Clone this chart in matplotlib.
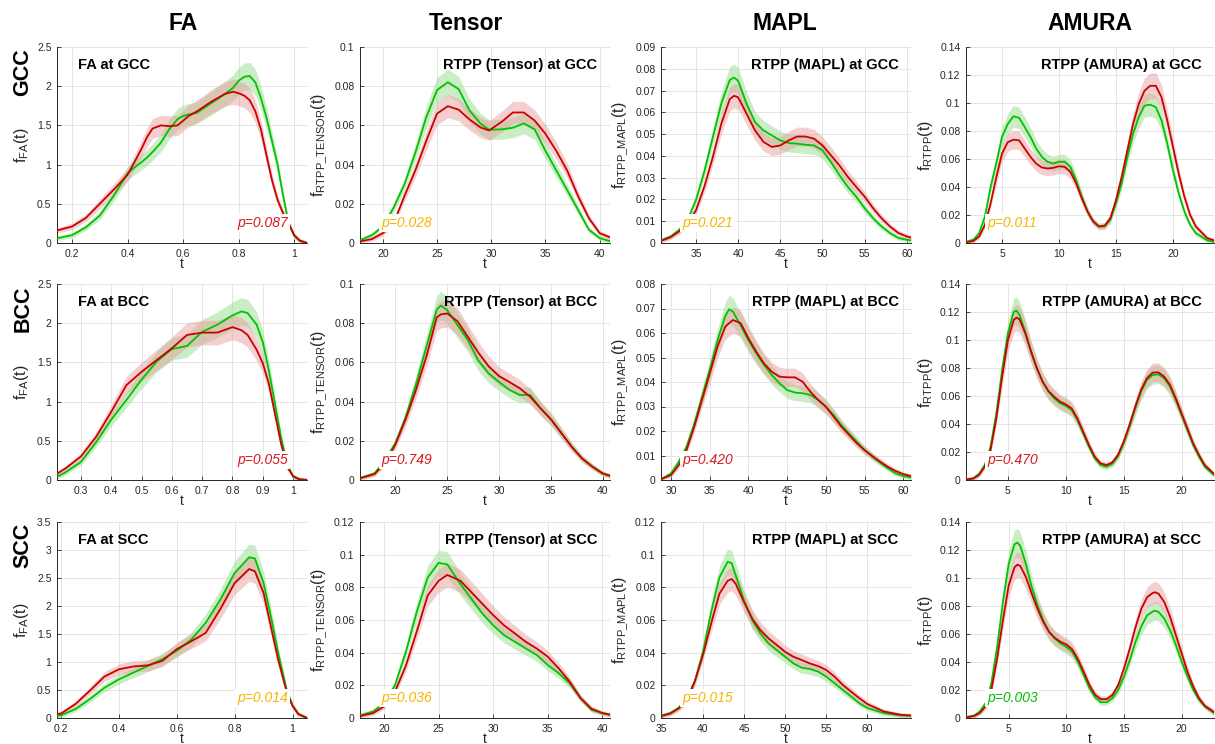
import matplotlib
matplotlib.use('Agg')
import matplotlib.pyplot as plt
from matplotlib.ticker import FuncFormatter
import numpy as np

# ---------------- data ----------------
col_titles = ['FA', 'Tensor', 'MAPL', 'AMURA']
row_titles = ['GCC', 'BCC', 'SCC']
ylabels = [r'$\mathregular{f_{FA}(t)}$', r'$\mathregular{f_{RTPP\_TENSOR}(t)}$',
           r'$\mathregular{f_{RTPP\_MAPL}(t)}$', r'$\mathregular{f_{RTPP}(t)}$']
panel_titles = [['FA at GCC', 'RTPP (Tensor) at GCC', 'RTPP (MAPL) at GCC', 'RTPP (AMURA) at GCC'],
                ['FA at BCC', 'RTPP (Tensor) at BCC', 'RTPP (MAPL) at BCC', 'RTPP (AMURA) at BCC'],
                ['FA at SCC', 'RTPP (Tensor) at SCC', 'RTPP (MAPL) at SCC', 'RTPP (AMURA) at SCC']]
p_values = [[0.087, 0.028, 0.021, 0.011],
            [0.055, 0.749, 0.420, 0.470],
            [0.014, 0.036, 0.015, 0.003]]

# FA at GCC
fa_gcc_t = [0.146, 0.2, 0.25, 0.3, 0.35, 0.4, 0.42, 0.45, 0.47, 0.49, 0.52, 0.55, 0.58, 0.6, 0.62, 0.65,
            0.7, 0.75, 0.78, 0.8, 0.82, 0.84, 0.86, 0.88, 0.9, 0.92, 0.94, 0.96, 0.98, 1.0, 1.02, 1.046]
fa_gcc_red = [0.16, 0.21, 0.32, 0.5, 0.68, 0.87, 1.0, 1.2, 1.35, 1.46, 1.5, 1.49, 1.5, 1.56, 1.62, 1.68,
              1.8, 1.9, 1.93, 1.91, 1.88, 1.82, 1.68, 1.45, 1.12, 0.8, 0.55, 0.38, 0.25, 0.1, 0.03, 0.0]
fa_gcc_green = [0.06, 0.1, 0.2, 0.35, 0.6, 0.89, 0.95, 1.03, 1.09, 1.16, 1.28, 1.45, 1.58, 1.62, 1.64, 1.66,
                1.78, 1.9, 1.98, 2.07, 2.12, 2.13, 2.05, 1.85, 1.6, 1.3, 1.0, 0.6, 0.25, 0.09, 0.03, 0.0]
# FA at BCC
fa_bcc_t = [0.221, 0.25, 0.3, 0.35, 0.4, 0.45, 0.5, 0.55, 0.6, 0.65, 0.7, 0.75, 0.8, 0.83, 0.85, 0.88,
            0.9, 0.92, 0.94, 0.96, 0.98, 1.0, 1.02, 1.046]
fa_bcc_red = [0.08, 0.15, 0.30, 0.55, 0.87, 1.21, 1.38, 1.53, 1.68, 1.85, 1.88, 1.88, 1.95, 1.91, 1.85, 1.66,
              1.49, 1.23, 0.85, 0.47, 0.17, 0.05, 0.01, 0.0]
fa_bcc_green = [0.04, 0.1, 0.23, 0.48, 0.77, 1.02, 1.28, 1.51, 1.67, 1.71, 1.89, 1.98, 2.1, 2.15, 2.13, 1.98,
                1.76, 1.4, 0.98, 0.55, 0.21, 0.04, 0.01, 0.0]
# FA at SCC
fa_scc_t = [0.186, 0.2, 0.25, 0.3, 0.35, 0.4, 0.45, 0.5, 0.55, 0.6, 0.65, 0.7, 0.75, 0.8, 0.85, 0.87,
            0.9, 0.93, 0.95, 0.98, 1.0, 1.02, 1.05]
fa_scc_red = [0.07, 0.08, 0.25, 0.49, 0.74, 0.87, 0.92, 0.94, 1.02, 1.23, 1.37, 1.52, 1.94, 2.41, 2.66, 2.62,
              2.23, 1.52, 1.05, 0.46, 0.22, 0.07, 0.0]
fa_scc_green = [0.04, 0.05, 0.16, 0.34, 0.54, 0.69, 0.81, 0.93, 1.05, 1.2, 1.4, 1.7, 2.11, 2.59, 2.87, 2.85,
                2.41, 1.7, 1.17, 0.49, 0.22, 0.07, 0.0]

# Tensor at GCC
ten_gcc_t = [17.9, 19, 20, 21, 22, 23, 24, 25, 26, 27, 28, 29, 29.8, 31, 32, 33, 34, 35, 36, 37, 38, 39, 40, 40.9]
ten_gcc_red = [0.0008, 0.002, 0.005, 0.010, 0.024, 0.037, 0.052, 0.066, 0.0698, 0.068, 0.063, 0.059, 0.0574,
               0.062, 0.0666, 0.0666, 0.0625, 0.0557, 0.047, 0.037, 0.024, 0.0127, 0.005, 0.003]
ten_gcc_green = [0.0014, 0.004, 0.0084, 0.018, 0.030, 0.046, 0.064, 0.078, 0.082, 0.0785, 0.0676, 0.061, 0.0578,
                 0.058, 0.0588, 0.061, 0.058, 0.047, 0.037, 0.027, 0.017, 0.0068, 0.0025, 0.001]
# Tensor at BCC
ten_bcc_t = [16.6, 18, 19, 20, 21, 22, 23, 24, 24.4, 25, 26, 27, 28, 29, 30, 31, 32, 33, 34, 35, 36, 37, 38, 39,
             40, 40.7]
ten_bcc_red = [0.0009, 0.003, 0.0085, 0.018, 0.031, 0.046, 0.063, 0.083, 0.0845, 0.085, 0.081, 0.073, 0.065,
               0.058, 0.053, 0.050, 0.0468, 0.0425, 0.0366, 0.031, 0.024, 0.017, 0.011, 0.0068, 0.0034, 0.0022]
ten_bcc_green = [0.0009, 0.0034, 0.010, 0.0187, 0.032, 0.049, 0.068, 0.087, 0.089, 0.0867, 0.079, 0.0714, 0.061,
                 0.0544, 0.050, 0.046, 0.0434, 0.0434, 0.0366, 0.031, 0.024, 0.017, 0.011, 0.0068, 0.0031, 0.002]
# Tensor at SCC
ten_scc_t = [17.8, 19, 20, 21, 22, 23, 24, 25, 25.8, 27, 28, 29, 30, 31, 32, 33, 34, 35, 36, 37, 38, 39, 40, 40.7]
ten_scc_red = [0.0012, 0.003, 0.007, 0.016, 0.032, 0.053, 0.075, 0.084, 0.0876, 0.084, 0.077, 0.070, 0.063,
               0.0567, 0.0517, 0.0466, 0.0425, 0.0375, 0.0304, 0.0223, 0.0122, 0.0057, 0.003, 0.002]
ten_scc_green = [0.0016, 0.004, 0.009, 0.020, 0.0405, 0.065, 0.086, 0.095, 0.094, 0.082, 0.073, 0.064, 0.0567,
                 0.0507, 0.0466, 0.0425, 0.0385, 0.0324, 0.0274, 0.0213, 0.0122, 0.005, 0.003, 0.002]

# MAPL at GCC
mapl_gcc_t = [30.85, 32, 33, 34, 35, 36, 37, 38, 39, 39.5, 40, 41, 42, 43, 44, 45, 46, 47, 48, 49, 50, 51, 52,
              53, 54, 55, 56, 57, 58, 59, 60, 60.5]
mapl_gcc_red = [0.001, 0.0027, 0.0053, 0.009, 0.015, 0.026, 0.0395, 0.0547, 0.066, 0.0676, 0.0669, 0.0593,
                0.0517, 0.0464, 0.0441, 0.0448, 0.0471, 0.0489, 0.0489, 0.0479, 0.0448, 0.0403, 0.0357, 0.0304,
                0.0258, 0.0213, 0.016, 0.0114, 0.0076, 0.0046, 0.003, 0.0025]
mapl_gcc_green = [0.0012, 0.003, 0.006, 0.0106, 0.0198, 0.033, 0.0486, 0.064, 0.0748, 0.076, 0.0745, 0.064,
                  0.0555, 0.0517, 0.0494, 0.0471, 0.0459, 0.0456, 0.0451, 0.0448, 0.0426, 0.0372, 0.0312, 0.0258,
                  0.0213, 0.016, 0.0114, 0.0076, 0.0046, 0.0023, 0.0015, 0.0012]
# MAPL at BCC
mapl_bcc_t = [28.7, 30, 31, 32, 33, 34, 35, 36, 37, 37.5, 38, 39, 40, 41, 42, 43, 44, 45, 46, 47, 48, 49, 50,
              51, 52, 53, 54, 55, 56, 57, 58, 59, 60, 61]
mapl_bcc_red = [0.0003, 0.002, 0.0061, 0.0122, 0.0218, 0.0327, 0.0435, 0.0544, 0.0626, 0.064, 0.0653, 0.064,
                0.0578, 0.0524, 0.0476, 0.0442, 0.0422, 0.0419, 0.0419, 0.0401, 0.036, 0.0327, 0.0299, 0.0259,
                0.0218, 0.0184, 0.015, 0.0122, 0.0098, 0.0075, 0.0054, 0.0037, 0.0024, 0.0016]
mapl_bcc_green = [0.0003, 0.0027, 0.0075, 0.0136, 0.023, 0.034, 0.045, 0.057, 0.067, 0.0697, 0.0687, 0.063,
                  0.057, 0.0517, 0.047, 0.0429, 0.0395, 0.0367, 0.0357, 0.0354, 0.0347, 0.0327, 0.0299, 0.0265,
                  0.0224, 0.019, 0.0156, 0.0122, 0.0095, 0.0071, 0.0048, 0.0027, 0.0016, 0.001]
# MAPL at SCC
mapl_scc_t = [34.9, 36, 37, 38, 39, 40, 41, 42, 43, 43.5, 44, 45, 46, 47, 48, 49, 50, 51, 52, 53, 54, 55, 56,
              57, 58, 59, 60, 62, 64, 65.3]
mapl_scc_red = [0.0012, 0.0026, 0.0057, 0.010, 0.0223, 0.0385, 0.0578, 0.076, 0.084, 0.0851, 0.082, 0.0709,
                0.0608, 0.0537, 0.0486, 0.0446, 0.0405, 0.0375, 0.0355, 0.0334, 0.0318, 0.0294, 0.0253, 0.0203,
                0.0162, 0.0122, 0.0085, 0.004, 0.002, 0.0015]
mapl_scc_green = [0.0014, 0.003, 0.006, 0.012, 0.0223, 0.0405, 0.065, 0.086, 0.0956, 0.0948, 0.0871, 0.072,
                  0.0598, 0.0517, 0.0456, 0.0415, 0.0375, 0.0334, 0.0308, 0.030, 0.0284, 0.0253, 0.0213, 0.0172,
                  0.0132, 0.0091, 0.0061, 0.003, 0.0016, 0.0014]

# AMURA at GCC
am_gcc_t = [1.84, 2.5, 3, 3.5, 4, 4.5, 5, 5.5, 6, 6.5, 7, 7.5, 8, 8.5, 9, 9.5, 10, 10.5, 11, 11.5, 12, 12.5,
            13, 13.5, 14, 14.5, 15, 15.5, 16, 16.5, 17, 17.5, 18, 18.5, 19, 19.5, 20, 20.5, 21, 21.5, 22, 23, 23.6]
am_gcc_red = [0.0005, 0.0015, 0.0047, 0.013, 0.0284, 0.047, 0.0638, 0.072, 0.0738, 0.0733,
              0.0674, 0.0615, 0.0567, 0.0539, 0.0532, 0.0537, 0.0548, 0.0544, 0.0508, 0.0426,
              0.0319, 0.0225, 0.0154, 0.0118, 0.0123, 0.0177, 0.0307, 0.0473, 0.0662, 0.0851,
              0.0993, 0.1087, 0.1123, 0.1123, 0.104, 0.0875, 0.0686, 0.0496, 0.0331, 0.0201,
              0.0118, 0.0035, 0.0019]
am_gcc_green = [0.0007, 0.0024, 0.007, 0.019, 0.040, 0.057, 0.0757, 0.085, 0.0905, 0.0894,
                0.0827, 0.0757, 0.0674, 0.0615, 0.058, 0.0567, 0.058, 0.058, 0.0544, 0.0449,
                0.0331, 0.0225, 0.0154, 0.0118, 0.0118, 0.0165, 0.0284, 0.0426, 0.0615, 0.078,
                0.0898, 0.0981, 0.0988, 0.097, 0.0875, 0.071, 0.052, 0.0355, 0.0225, 0.013,
                0.0071, 0.0019, 0.0009]
# AMURA at BCC
am_bcc_t = [1.38, 2, 2.5, 3, 3.5, 4, 4.5, 5, 5.5, 5.75, 6, 6.5, 7, 7.5, 8, 8.5, 9, 9.5, 10, 10.5, 11, 11.5, 12,
            12.5, 13, 13.5, 14, 14.5, 15, 15.5, 16, 16.5, 17, 17.5, 18, 18.5, 19, 19.5, 20, 20.5, 21, 21.5, 22,
            22.8]
am_bcc_red = [0.0003, 0.001, 0.0036, 0.0095, 0.0214, 0.044, 0.0738, 0.1, 0.1143, 0.116,
              0.1148, 0.1048, 0.0917, 0.0798, 0.0702, 0.0636, 0.0595, 0.056, 0.054, 0.0512,
              0.044, 0.0345, 0.025, 0.0167, 0.0119, 0.0107, 0.0124, 0.0179, 0.0274, 0.0393,
              0.0524, 0.0643, 0.0726, 0.0767, 0.0769, 0.0738, 0.0679, 0.0583, 0.0476, 0.0369,
              0.0262, 0.0179, 0.0107, 0.0043]
am_bcc_green = [0.0003, 0.0012, 0.0043, 0.0107, 0.0238, 0.0476, 0.0786, 0.1048, 0.1202, 0.121,
                0.1179, 0.106, 0.0917, 0.0798, 0.0702, 0.0631, 0.0583, 0.0548, 0.0529, 0.05,
                0.0429, 0.0333, 0.0238, 0.0155, 0.0107, 0.0095, 0.0114, 0.0167, 0.0262, 0.0381,
                0.0512, 0.0631, 0.0714, 0.075, 0.0755, 0.0726, 0.0667, 0.0571, 0.0464, 0.0357,
                0.025, 0.0167, 0.0095, 0.0036]
# AMURA at SCC
am_scc_t = [1.3, 2, 2.5, 3, 3.5, 4, 4.5, 5, 5.5, 5.75, 6, 6.5, 7, 7.5, 8, 8.5, 9, 9.5, 10, 10.5, 11, 11.5, 12,
            12.5, 13, 13.5, 14, 14.5, 15, 15.5, 16, 16.5, 17, 17.5, 17.7, 18, 18.5, 19, 19.5, 20, 20.5, 21, 21.5,
            22, 22.8]
am_scc_red = [0.0004, 0.0014, 0.0035, 0.0083, 0.0201, 0.0426, 0.0697, 0.0946, 0.1076, 0.1095,
              0.1087, 0.1005, 0.0887, 0.078, 0.0686, 0.0615, 0.0572, 0.0544, 0.0525, 0.0491,
              0.0421, 0.0331, 0.0236, 0.0165, 0.0135, 0.0135, 0.0165, 0.0236, 0.0355, 0.0496,
              0.065, 0.078, 0.0863, 0.0894, 0.0898, 0.0887, 0.0827, 0.0721, 0.0591, 0.0461,
              0.0331, 0.0225, 0.0142, 0.0087, 0.0043]
am_scc_green = [0.0005, 0.0017, 0.0047, 0.0106, 0.0248, 0.0508, 0.0827, 0.11, 0.1241, 0.1253,
                0.123, 0.11, 0.0934, 0.0804, 0.0697, 0.0615, 0.0567, 0.0532, 0.0508, 0.0473,
                0.0402, 0.0307, 0.0213, 0.0147, 0.0113, 0.0113, 0.0142, 0.0201, 0.0296, 0.0414,
                0.0544, 0.0655, 0.0733, 0.0761, 0.0766, 0.0757, 0.0709, 0.0626, 0.052, 0.0402,
                0.0296, 0.0201, 0.013, 0.0083, 0.0035]

# axis limits and ticks
xlims = [[(0.146, 1.046), (17.9, 40.95), (30.85, 60.5), (1.84, 23.6)],
         [(0.221, 1.046), (16.6, 40.7), (28.7, 61.0), (1.38, 22.8)],
         [(0.186, 1.05), (17.8, 40.7), (34.9, 65.3), (1.3, 22.8)]]
xticks = [[[0.2, 0.4, 0.6, 0.8, 1], [20, 25, 30, 35, 40], [35, 40, 45, 50, 55, 60], [5, 10, 15, 20]],
          [[0.3, 0.4, 0.5, 0.6, 0.7, 0.8, 0.9, 1], [20, 25, 30, 35, 40], [30, 35, 40, 45, 50, 55, 60], [5, 10, 15, 20]],
          [[0.2, 0.4, 0.6, 0.8, 1], [20, 25, 30, 35, 40], [35, 40, 45, 50, 55, 60], [5, 10, 15, 20]]]
ytops = [[2.5, 0.1, 0.09, 0.14], [2.5, 0.1, 0.08, 0.14], [3.5, 0.12, 0.12, 0.14]]
ysteps = [[0.5, 0.02, 0.01, 0.02], [0.5, 0.02, 0.01, 0.02], [0.5, 0.02, 0.02, 0.02]]

series = [[(fa_gcc_t, fa_gcc_red, fa_gcc_green), (ten_gcc_t, ten_gcc_red, ten_gcc_green),
           (mapl_gcc_t, mapl_gcc_red, mapl_gcc_green), (am_gcc_t, am_gcc_red, am_gcc_green)],
          [(fa_bcc_t, fa_bcc_red, fa_bcc_green), (ten_bcc_t, ten_bcc_red, ten_bcc_green),
           (mapl_bcc_t, mapl_bcc_red, mapl_bcc_green), (am_bcc_t, am_bcc_red, am_bcc_green)],
          [(fa_scc_t, fa_scc_red, fa_scc_green), (ten_scc_t, ten_scc_red, ten_scc_green),
           (mapl_scc_t, mapl_scc_red, mapl_scc_green), (am_scc_t, am_scc_red, am_scc_green)]]

# ---------------- style ----------------
RED = '#cc0000'
GREEN = '#00c400'
RED_BAND = '#e8a0a0'
GREEN_BAND = '#a8e2a0'
BOLD = ['Liberation Sans', 'DejaVu Sans']
plt.rcParams['font.family'] = ['Liberation Sans', 'DejaVu Sans']
plt.rcParams['mathtext.fontset'] = 'custom'
plt.rcParams['mathtext.rm'] = 'Liberation Sans'

W, H = 1215, 744
fig = plt.figure(figsize=(W / 100, H / 100), dpi=100)

col_left = [57, 360, 661, 966]
col_w = [250, 250, 250, 248]
row_top = [47, 284, 522]
row_h = 196


def pcolor(p):
    if p >= 0.05:
        return '#d7191c'
    if p >= 0.01:
        return '#f7b500'
    return '#00c000'


fmt = FuncFormatter(lambda v, pos: ('%g' % round(v, 6)))

for r in range(3):
    for c in range(4):
        l = col_left[c]
        ax = fig.add_axes([l / W, 1 - (row_top[r] + row_h) / H, col_w[c] / W, row_h / H])
        t, red, green = series[r][c]
        t = np.asarray(t, float)
        red = np.asarray(red, float)
        green = np.asarray(green, float)
        ytop = ytops[r][c]
        for y, bc, a in ((green, GREEN_BAND, 0.6), (red, RED_BAND, 0.5)):
            half = 0.07 * y + 0.01 * ytop
            ax.fill_between(t, np.clip(y - half, 0, None), y + half, color=bc, alpha=a, lw=0, zorder=2)
        ax.plot(t, green, color=GREEN, lw=1.3, zorder=4, solid_joinstyle='round')
        ax.plot(t, red, color=RED, lw=1.3, zorder=5, solid_joinstyle='round')

        ax.set_xlim(*xlims[r][c])
        ax.set_ylim(0, ytop)
        ax.set_xticks(xticks[r][c])
        ax.set_yticks(np.arange(0, ytop + 1e-9, ysteps[r][c]))
        ax.xaxis.set_major_formatter(fmt)
        ax.yaxis.set_major_formatter(fmt)
        ax.grid(True, color='#e4e4e4', lw=0.7, zorder=0)
        ax.set_axisbelow(True)
        for s in ('top', 'right'):
            ax.spines[s].set_visible(False)
        for s in ('left', 'bottom'):
            ax.spines[s].set_color('#262626')
            ax.spines[s].set_linewidth(0.7)
        ax.tick_params(direction='in', length=3, width=0.6, labelsize=7.5, colors='#262626',
                       pad=4)
        ax.set_xlabel('t', fontsize=10, labelpad=-1, color='#262626')
        ax.set_ylabel(ylabels[c], fontsize=11.5, labelpad=4, color='#262626')

        # panel title
        if c == 0:
            ax.text(0.085, 0.91, panel_titles[r][c], transform=ax.transAxes, fontsize=10.5,
                    fontweight='bold', family=BOLD, ha='left', va='center', zorder=6)
        else:
            ax.text(0.95, 0.91, panel_titles[r][c], transform=ax.transAxes, fontsize=10.5,
                    fontweight='bold', family=BOLD, ha='right', va='center', zorder=6)
        # p value
        p = p_values[r][c]
        ptxt = 'p=%.3f' % p
        bbox = dict(facecolor='white', edgecolor='none', pad=1.5)
        if c == 0:
            ax.text(0.925, 0.1, ptxt, transform=ax.transAxes, fontsize=10, style='italic',
                    color=pcolor(p), ha='right', va='center', bbox=bbox, zorder=7)
        else:
            ax.text(0.085, 0.1, ptxt, transform=ax.transAxes, fontsize=10, style='italic',
                    color=pcolor(p), ha='left', va='center', bbox=bbox, zorder=7)

# column headers
col_cx = [183, 466, 785, 1090]
for c, name in enumerate(col_titles):
    fig.text(col_cx[c] / W, 1 - 23 / H, name, fontsize=16.5, fontweight='bold', family=BOLD,
             ha='center', va='center')
# row headers
for r, name in enumerate(row_titles):
    fig.text(23 / W, 1 - (row_top[r] + 1) / H, name, fontsize=15.5, fontweight='bold', family=BOLD,
             rotation=90, ha='center', va='top')

fig.savefig('out.png', dpi=100)
